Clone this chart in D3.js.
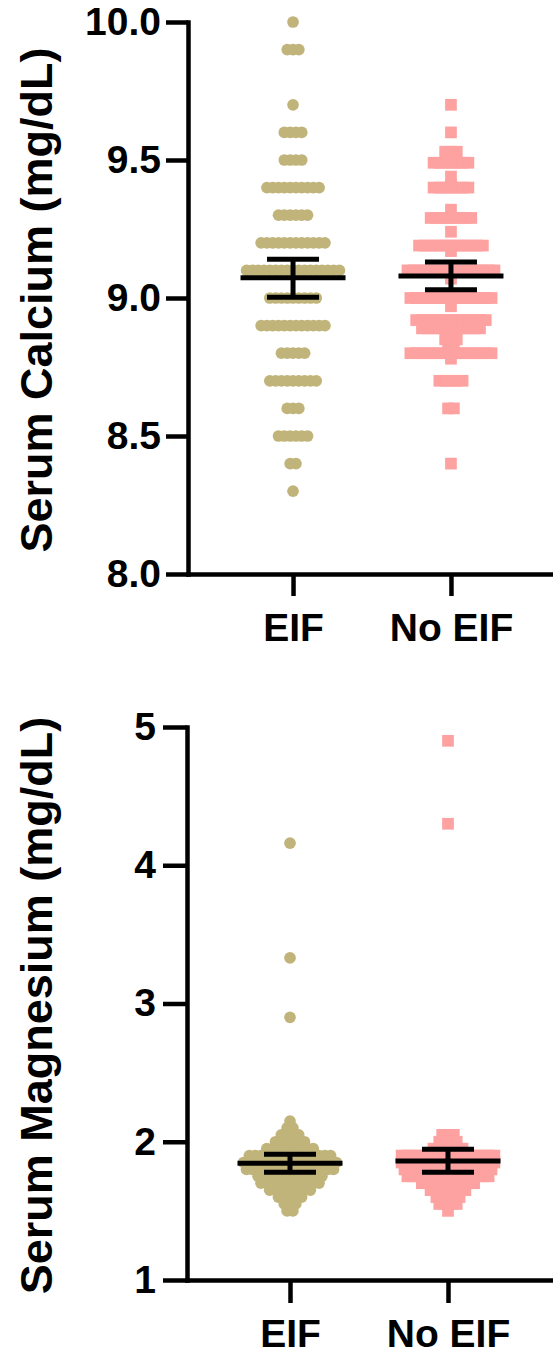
<!DOCTYPE html>
<html lang="en">
<head>
<meta charset="UTF-8">
<title>Serum Calcium and Magnesium</title>
<script src="https://d3js.org/d3.v7.min.js"></script>
<style>
  body { margin: 0; background: #fff; }
  svg text { font-family: "Liberation Sans", Arial, sans-serif; font-weight: bold; }
</style>
</head>
<body>
<script>
const width = 553;
const height = 1349;

const categories = ["EIF", "No EIF"];
const colors = ["#c0b47a", "#fda1a1"];

// serum calcium, [value, number of patients]
const calciumEIF = [
  [10.0, 1], [9.9, 3], [9.7, 1], [9.6, 4], [9.5, 4], [9.4, 10], [9.3, 6],
  [9.2, 12], [9.1, 17], [9.0, 9], [8.9, 12], [8.8, 5], [8.7, 9], [8.6, 3],
  [8.5, 6], [8.4, 2], [8.3, 1]
];
const calciumNoEIF = [
  [9.70, 1], [9.60, 1], [9.53, 3], [9.49, 7], [9.44, 1], [9.41, 1], [9.40, 7],
  [9.32, 1], [9.29, 8], [9.24, 1], [9.19, 12], [9.17, 1], [9.10, 16], [9.07, 1],
  [9.00, 15], [8.97, 1], [8.92, 13], [8.89, 11], [8.85, 3], [8.83, 2], [8.80, 15],
  [8.78, 1], [8.70, 5], [8.60, 2], [8.40, 1]
];
const calciumMean = [9.073, 9.08];
const calciumLow = [9.003, 9.03];
const calciumHigh = [9.14, 9.13];
const calciumTicks = [8.0, 8.5, 9.0, 9.5, 10.0];

// serum magnesium, [value, number of patients]
const magnesiumEIF = [
  [4.16, 1], [3.33, 1], [2.90, 1], [2.15, 1], [2.10, 2], [2.05, 4], [2.00, 6],
  [1.95, 9], [1.90, 15], [1.85, 17], [1.80, 16], [1.75, 12], [1.70, 11],
  [1.65, 8], [1.60, 5], [1.55, 3], [1.50, 2]
];
const magnesiumNoEIF = [
  [4.90, 1], [4.30, 1], [2.05, 3], [2.00, 4], [1.95, 6], [1.90, 17], [1.85, 17],
  [1.80, 16], [1.75, 15], [1.70, 10], [1.65, 7], [1.60, 5], [1.55, 4], [1.50, 1]
];
const magnesiumMean = [1.845, 1.86];
const magnesiumLow = [1.78, 1.78];
const magnesiumHigh = [1.91, 1.945];
const magnesiumTicks = [1, 2, 3, 4, 5];

const svg = d3.select("body").append("svg")
    .attr("width", width)
    .attr("height", height);

const dotSize = 11.7;
const dotStep = 5.8;

function drawPanel(p) {
    const g = svg.append("g");

    const y = d3.scaleLinear().domain(p.domain).range(p.yRange);
    const x = d3.scalePoint().domain(categories).range(p.xRange).padding(p.padding);

    // points, one row per value
    p.groups.forEach(function (rows, gi) {
        const pts = [];
        rows.forEach(function (r) {
            for (let i = 0; i < r[1]; i++) {
                pts.push({ v: r[0], dx: (i - (r[1] - 1) / 2) * dotStep });
            }
        });
        const cx = x(categories[gi]);
        if (gi === 0) {
            g.append("g").selectAll("circle")
                .data(pts)
                .join("circle")
                .attr("cx", d => cx + d.dx)
                .attr("cy", d => y(d.v))
                .attr("r", dotSize / 2)
                .attr("fill", colors[gi]);
        } else {
            g.append("g").selectAll("rect")
                .data(pts)
                .join("rect")
                .attr("x", d => cx + d.dx - dotSize / 2)
                .attr("y", d => y(d.v) - dotSize / 2)
                .attr("width", dotSize)
                .attr("height", dotSize)
                .attr("fill", colors[gi]);
        }
    });

    // mean with error bars
    const bars = g.append("g").attr("stroke", "#000").attr("stroke-width", 5);
    categories.forEach(function (c, i) {
        const cx = x(c);
        bars.append("line")
            .attr("x1", cx - 52.5).attr("x2", cx + 52.5)
            .attr("y1", y(p.mean[i])).attr("y2", y(p.mean[i]));
        bars.append("line")
            .attr("x1", cx).attr("x2", cx)
            .attr("y1", y(p.low[i])).attr("y2", y(p.high[i]));
        [p.low[i], p.high[i]].forEach(function (v) {
            bars.append("line")
                .attr("x1", cx - 26).attr("x2", cx + 26)
                .attr("y1", y(v)).attr("y2", y(v));
        });
    });

    // axes
    const yAxis = g.append("g")
        .attr("transform", "translate(" + p.xRange[0] + ",0)")
        .call(d3.axisLeft(y)
            .tickValues(p.ticks)
            .tickFormat(p.format)
            .tickSize(p.yTick)
            .tickSizeOuter(0)
            .tickPadding(p.yPad));

    const xAxis = g.append("g")
        .attr("transform", "translate(0," + p.yRange[0] + ")")
        .call(d3.axisBottom(x)
            .tickSize(p.xTick)
            .tickSizeOuter(0)
            .tickPadding(p.xPad));

    [yAxis, xAxis].forEach(function (a) {
        a.select(".domain").attr("stroke-width", 4.5).attr("stroke-linecap", "square");
        a.selectAll(".tick line").attr("stroke-width", 4.5);
        a.selectAll("text").attr("font-size", 39).attr("fill", "#000");
    });

    g.append("text")
        .attr("transform", "translate(52," + ((p.yRange[0] + p.yRange[1]) / 2 + 2) + ") rotate(-90)")
        .attr("text-anchor", "middle")
        .attr("font-size", 45)
        .attr("fill", "#000")
        .text(p.title);
}

drawPanel({
    title: "Serum Calcium (mg/dL)",
    domain: [8, 10],
    yRange: [574, 22],
    xRange: [188, 556],
    padding: 0.665,
    ticks: calciumTicks,
    format: d3.format(".1f"),
    yTick: 22, yPad: 5, xTick: 22, xPad: 17,
    groups: [calciumEIF, calciumNoEIF],
    mean: calciumMean, low: calciumLow, high: calciumHigh
});

drawPanel({
    title: "Serum Magnesium (mg/dL)",
    domain: [1, 5],
    yRange: [1280, 727],
    xRange: [187, 551],
    padding: 0.652,
    ticks: magnesiumTicks,
    format: d3.format("d"),
    yTick: 24, yPad: 7, xTick: 23, xPad: 16,
    groups: [magnesiumEIF, magnesiumNoEIF],
    mean: magnesiumMean, low: magnesiumLow, high: magnesiumHigh
});
</script>
</body>
</html>
